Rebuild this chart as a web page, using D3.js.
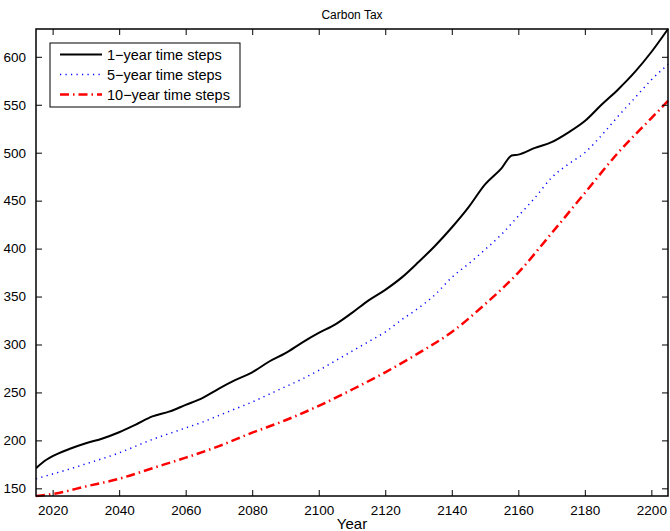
<!DOCTYPE html>
<html>
<head>
<meta charset="utf-8">
<script src="https://d3js.org/d3.v7.min.js"></script>
<style>
  body { margin: 0; background: #fff; }
  text { font-family: "Liberation Sans", Arial, sans-serif; fill: #000; }
</style>
</head>
<body>
<svg id="chart" width="670" height="531"></svg>
<script>
// years and values
var yearsOne = [2015, 2017, 2020, 2025, 2030, 2035, 2040, 2045, 2050, 2055, 2060, 2065, 2070, 2075, 2080, 2085, 2090, 2095, 2100, 2105, 2110, 2115, 2120, 2125, 2130, 2135, 2140, 2145, 2150, 2155, 2158, 2160, 2165, 2170, 2175, 2180, 2185, 2190, 2195, 2200, 2205];
var taxOne   = [171, 177, 183.5, 191, 197, 202, 208.5, 216.5, 225, 230, 237, 244, 254, 263, 271, 282, 291, 302, 312, 321, 333, 346, 357, 370, 386, 403, 422, 443, 467, 484, 497, 498, 505, 511, 521, 533, 550, 566, 584, 605, 629];

var yearsFive = [2015, 2020, 2025, 2030, 2035, 2040, 2045, 2050, 2055, 2060, 2065, 2070, 2075, 2080, 2085, 2090, 2095, 2100, 2105, 2110, 2115, 2120, 2125, 2130, 2135, 2140, 2145, 2150, 2155, 2160, 2165, 2170, 2175, 2180, 2185, 2190, 2195, 2200, 2205];
var taxFive   = [160, 165, 170, 175.5, 181, 187, 194, 201, 207, 213, 219, 226, 233, 240, 248, 256, 264, 273, 283, 293, 303, 313, 326, 338, 352, 370, 384, 399, 415, 434, 453, 474, 488, 500, 518, 538, 557, 576, 592];

var yearsTen = [2015, 2020, 2030, 2040, 2050, 2060, 2070, 2080, 2090, 2100, 2110, 2120, 2130, 2140, 2150, 2160, 2170, 2180, 2190, 2200, 2205];
var taxTen   = [142, 144, 152, 160, 171, 182, 194, 208, 221, 236, 253, 271, 291, 313, 342, 375, 416, 458, 500, 536, 554];

var xTicks = [2020, 2040, 2060, 2080, 2100, 2120, 2140, 2160, 2180, 2200];
var yTicks = [150, 200, 250, 300, 350, 400, 450, 500, 550, 600];

var seriesNames = ["1\u2212year time steps", "5\u2212year time steps", "10\u2212year time steps"];

var svg = d3.select("#chart");
var plotL = 36, plotR = 668, plotT = 29, plotB = 496;

var x = d3.scaleLinear().domain([2015, 2205]).range([plotL, plotR]);
var allVals = taxOne.concat(taxFive, taxTen);
var y = d3.scaleLinear().domain(d3.extent(allVals)).range([plotB, plotT]);

var series = [
  {name: seriesNames[0], xs: yearsOne, ys: taxOne, color: "#000", width: 2, dash: null},
  {name: seriesNames[1], xs: yearsFive, ys: taxFive, color: "#0000ff", width: 1.5, dash: "1.2,4.3"},
  {name: seriesNames[2], xs: yearsTen, ys: taxTen, color: "#ff0000", width: 2.5, dash: "9,4,1.5,4"}
];

// lines
var line = d3.line()
  .curve(d3.curveMonotoneX)
  .x(function(d) { return x(d[0]); })
  .y(function(d) { return y(d[1]); });

svg.append("clipPath").attr("id", "plotclip")
  .append("rect").attr("x", plotL).attr("y", plotT - 2).attr("width", plotR - plotL + 2).attr("height", plotB - plotT + 4);

series.forEach(function(s) {
  var pts = s.xs.map(function(v, i) { return [v, s.ys[i]]; });
  svg.append("path")
    .datum(pts)
    .attr("d", line)
    .attr("clip-path", "url(#plotclip)")
    .attr("fill", "none")
    .attr("stroke", s.color)
    .attr("stroke-width", s.width)
    .attr("stroke-dasharray", s.dash);
});

// axes (inward ticks, box on)
var tl = 6;
svg.append("g").attr("transform", "translate(0," + plotB + ")")
  .call(d3.axisBottom(x).tickValues(xTicks).tickSizeInner(-tl).tickSizeOuter(0).tickPadding(9).tickFormat(d3.format("d")));
svg.append("g").attr("transform", "translate(0," + plotT + ")")
  .call(d3.axisTop(x).tickValues(xTicks).tickSizeInner(-tl).tickSizeOuter(0).tickFormat(""));
svg.append("g").attr("transform", "translate(" + plotL + ",0)")
  .call(d3.axisLeft(y).tickValues(yTicks).tickSizeInner(-tl).tickSizeOuter(0).tickPadding(10));
svg.append("g").attr("transform", "translate(" + plotR + ",0)")
  .call(d3.axisRight(y).tickValues(yTicks).tickSizeInner(-tl).tickSizeOuter(0).tickFormat(""));

svg.selectAll(".domain").remove();
svg.selectAll(".tick line").attr("stroke", "#000").attr("stroke-width", 1);
svg.selectAll(".tick text").style("font-size", "13.5px").attr("fill", "#000");

svg.append("rect")
  .attr("x", plotL).attr("y", plotT)
  .attr("width", plotR - plotL).attr("height", plotB - plotT)
  .attr("fill", "none").attr("stroke", "#000").attr("stroke-width", 1.5);

// title and x label
svg.append("text").attr("x", (plotL + plotR) / 2).attr("y", 19)
  .attr("text-anchor", "middle").style("font-size", "12px").text("Carbon Tax");
svg.append("text").attr("x", (plotL + plotR) / 2).attr("y", 528.5)
  .attr("text-anchor", "middle").style("font-size", "15px").text("Year");

// legend
var lg = svg.append("g");
lg.append("rect").attr("x", 50).attr("y", 43).attr("width", 190).attr("height", 64)
  .attr("fill", "#fff").attr("stroke", "#000").attr("stroke-width", 1);
series.forEach(function(s, i) {
  var cy = 54.5 + i * 20;
  lg.append("line").attr("x1", 60).attr("x2", 102).attr("y1", cy).attr("y2", cy)
    .attr("stroke", s.color).attr("stroke-width", s.width).attr("stroke-dasharray", s.dash);
  lg.append("text").attr("x", 107).attr("y", cy).attr("dy", "0.35em")
    .style("font-size", "14.5px").text(s.name);
});
</script>
</body>
</html>
